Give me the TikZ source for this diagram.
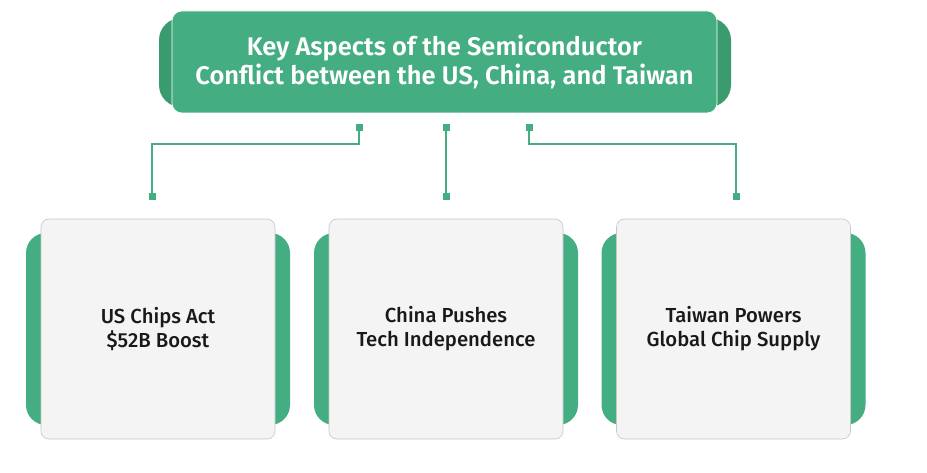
\documentclass[tikz,border=0pt]{standalone}
\usepackage{fontspec}
\setmainfont{Fira Sans}
\newfontfamily\titlefont{Fira Sans SemiBold}
\newfontfamily\cardfont{Fira Sans Medium}
\usetikzlibrary{positioning}

\definecolor{leaf}{HTML}{45AD82}
\definecolor{leafdark}{HTML}{3A9B6F}
\definecolor{paper}{HTML}{F4F4F4}

\tikzset{
  headbox/.style={rounded corners=10pt,fill=leaf,draw=white,line width=0.6pt,
    minimum width=545pt,minimum height=102pt,align=center,text=white,
    font=\titlefont\fontsize{25.5}{29}\selectfont},
  headback/.style={rounded corners=22pt,fill=leafdark,minimum width=572pt,minimum height=89pt},
  cardbox/.style={rounded corners=8pt,fill=paper,draw=black!22,line width=0.6pt,
    minimum width=234pt,minimum height=220pt,align=center,text=black!90,
    font=\cardfont\fontsize{20.3}{24}\selectfont},
  cardtab/.style={rounded corners=20pt,fill=leaf,minimum width=264pt,minimum height=192pt},
  pin/.style={fill=leaf,minimum size=7pt,inner sep=0pt},
  link/.style={draw=leaf,line width=1.5pt}
}

\begin{document}
\begin{tikzpicture}[x=1pt,y=-1pt]
  \useasboundingbox (0,0) rectangle (927,473);

  % title
  \node[headback] (titleback) at (445,62.5) {};
  \node[headbox] (title) at (444.5,62) {Key Aspects of the Semiconductor\\Conflict between the US, China, and Taiwan};

  % cards
  \foreach \name/\x/\txt in {us/158/{US Chips Act\\\$52B Boost},
                             cn/446/{China Pushes\\Tech Independence},
                             tw/733.5/{Taiwan Powers\\Global Chip Supply}} {
    \node[cardtab] (\name tab) at (\x,329) {};
    \node[cardbox] (\name) at (\x,329) {\txt};
  }

  % pins
  \node[pin] (t1) at (359,128) {};
  \node[pin] (t2) at (446,128) {};
  \node[pin] (t3) at (529,128) {};
  \node[pin] (b1) at (152,197) {};
  \node[pin] (b2) at (446,197) {};
  \node[pin] (b3) at (736,197) {};
  \coordinate (k1) at (359,144);
  \coordinate (k3) at (529,144);

  % links
  \draw[link] (t1.center) -- (k1) -| (b1.center);
  \draw[link] (t2.center) -- (b2.center);
  \draw[link] (t3.center) -- (k3) -| (b3.center);
  \foreach \p in {t1,t2,t3,b1,b2,b3} \node[pin] at (\p) {};
\end{tikzpicture}
\end{document}
